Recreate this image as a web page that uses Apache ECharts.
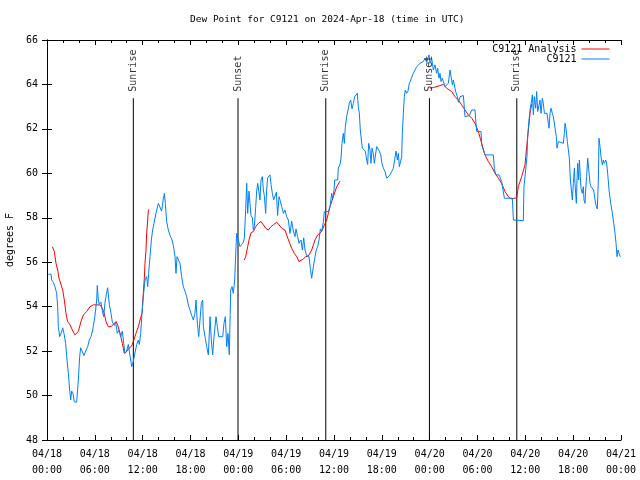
<!DOCTYPE html>
<html><head><meta charset="utf-8">
<script src="https://cdn.jsdelivr.net/npm/echarts@6/dist/echarts.min.js"></script>
<style>html,body{margin:0;padding:0;background:#fff}#c{width:640px;height:480px}</style>
</head><body><div id="c"></div>
<script>
// Hours since 2024-04-18 00:00 UTC
const xTickLabels = ['04/18\n00:00','04/18\n06:00','04/18\n12:00','04/18\n18:00','04/19\n00:00','04/19\n06:00','04/19\n12:00','04/19\n18:00','04/20\n00:00','04/20\n06:00','04/20\n12:00','04/20\n18:00','04/21\n00:00'];

const eventHours = [10.83, 23.96, 34.97, 47.97, 58.93];
const eventNames = ['Sunrise', 'Sunset', 'Sunrise', 'Sunset', 'Sunrise'];
const eventTop = 63.38;

const analysis1 = [[0.67,56.7],[0.92,56.48],[1.13,55.95],[1.34,55.65],[1.51,55.28],[1.76,55.2],[1.97,54.75],[2.17,54.3],[2.38,53.7],[2.59,53.33],[2.89,53.18],[3.18,52.95],[3.51,52.73],[3.72,52.65],[3.93,52.88],[4.26,53.33],[4.56,53.63],[4.98,53.78],[5.39,54.0],[5.81,54.08],[6.65,54.08],[6.94,53.93],[7.19,53.7],[7.40,53.33],[7.69,53.1],[8.03,53.1],[8.32,53.2],[8.66,53.33],[8.86,53.18],[9.16,52.8],[9.45,52.35],[9.70,51.9],[9.99,51.98],[10.29,52.13],[10.62,52.23],[10.83,52.43],[10.91,52.5],[11.16,52.8],[11.46,53.1],[11.67,53.4],[11.92,53.7],[12.08,54.6],[12.21,55.28],[12.29,55.95],[12.42,56.55],[12.50,57.3],[12.63,57.9],[12.71,58.35],[12.84,58.38]];
const analysis2 = [[24.75,56.1],[24.92,56.25],[25.17,56.7],[25.34,57.0],[25.59,57.33],[25.88,57.38],[26.18,57.6],[26.51,57.75],[26.84,57.83],[27.14,57.68],[27.43,57.53],[27.76,57.45],[28.10,57.6],[28.39,57.68],[28.81,57.8],[29.10,57.68],[29.44,57.53],[29.85,57.45],[30.06,57.23],[30.36,56.93],[30.69,56.63],[31.02,56.4],[31.32,56.25],[31.61,56.03],[31.86,56.03],[32.15,56.15],[32.45,56.25],[32.78,56.28],[32.99,56.33],[33.20,56.55],[33.41,56.78],[33.62,57.0],[33.95,57.23],[34.24,57.3],[34.54,57.45],[34.79,57.68],[35.08,57.9],[35.29,58.2],[35.50,58.5],[35.92,58.95],[36.34,59.4],[36.75,59.65]];
const analysis3 = [[48.04,63.83],[48.46,63.86],[49.30,63.95],[49.72,64.0],[50.13,63.83],[50.76,63.68],[51.18,63.45],[51.60,63.3],[52.01,63.08],[52.43,62.85],[52.85,62.63],[53.27,62.48],[53.69,62.25],[54.11,61.88],[54.52,61.35],[54.94,60.83],[55.36,60.53],[55.78,60.3],[56.20,60.0],[56.62,59.78],[57.03,59.55],[57.45,59.18],[57.87,58.95],[58.20,58.85],[58.92,58.9],[59.12,59.4],[59.54,59.85],[59.96,60.38],[60.17,61.2],[60.38,61.95],[60.59,62.7],[60.80,63.12]];

const observed = [[0.17,55.46],[0.50,55.46],[0.59,55.2],[0.79,55.1],[1.00,54.9],[1.21,54.6],[1.34,54.0],[1.42,53.1],[1.59,52.65],[1.76,52.8],[1.97,53.05],[2.13,52.8],[2.34,52.35],[2.51,51.6],[2.68,51.0],[2.84,50.25],[2.97,49.8],[3.09,50.2],[3.26,50.1],[3.43,49.72],[3.72,49.7],[3.93,50.7],[4.10,51.75],[4.22,52.15],[4.43,52.15],[4.64,51.8],[4.85,52.0],[5.10,52.2],[5.31,52.5],[5.52,52.65],[5.73,52.95],[5.94,53.4],[6.10,53.85],[6.23,54.3],[6.31,54.95],[6.44,54.3],[6.56,54.1],[6.77,54.2],[6.94,53.8],[7.11,53.55],[7.28,54.2],[7.44,54.55],[7.61,54.85],[7.69,54.55],[7.82,54.1],[8.03,53.7],[8.20,53.3],[8.45,53.15],[8.61,53.3],[8.82,52.8],[9.03,52.95],[9.24,52.65],[9.45,52.9],[9.62,52.35],[9.78,51.9],[9.99,52.0],[10.20,52.3],[10.41,52.3],[10.62,51.3],[10.80,51.5],[11.04,51.55],[11.25,52.3],[11.46,52.5],[11.58,52.3],[11.75,52.8],[11.92,53.7],[12.08,54.45],[12.29,55.2],[12.50,55.35],[12.63,54.9],[12.75,55.5],[12.92,56.25],[13.09,57.0],[13.25,57.45],[13.42,57.75],[13.67,58.2],[13.97,58.65],[14.17,58.7],[14.38,58.3],[14.59,58.85],[14.72,59.1],[14.84,58.65],[15.01,57.83],[15.22,57.45],[15.43,57.2],[15.64,57.05],[15.85,56.75],[16.06,56.25],[16.18,55.5],[16.31,56.25],[16.47,56.2],[16.68,55.95],[16.89,55.35],[17.10,54.9],[17.31,54.7],[17.52,54.45],[17.73,54.08],[17.94,54.15],[18.15,53.6],[18.36,53.4],[18.56,53.7],[18.69,54.3],[18.86,53.25],[19.03,52.65],[19.19,53.4],[19.36,54.15],[19.53,54.3],[19.61,53.1],[19.82,52.65],[20.03,52.2],[20.24,51.83],[20.45,53.55],[20.61,52.5],[20.78,51.83],[20.95,52.65],[21.20,53.55],[21.37,53.1],[21.53,52.65],[22.04,52.65],[22.20,53.25],[22.37,53.55],[22.54,52.2],[22.70,52.8],[22.87,51.83],[23.04,54.75],[23.21,54.9],[23.37,54.6],[23.54,55.2],[23.71,56.7],[23.79,57.3],[24.00,57.0],[24.21,56.7],[24.42,56.8],[24.63,56.9],[24.75,57.08],[24.92,58.35],[25.05,59.55],[25.17,58.2],[25.34,59.2],[25.46,58.65],[25.59,58.1],[25.76,58.0],[25.88,57.45],[26.01,57.6],[26.18,58.5],[26.30,59.2],[26.43,59.55],[26.59,59.55],[26.72,58.8],[26.84,59.7],[27.01,59.85],[27.14,59.25],[27.26,59.0],[27.43,58.2],[27.55,59.25],[27.68,59.8],[27.97,59.93],[28.10,59.5],[28.27,59.1],[28.43,58.8],[28.60,58.85],[28.77,59.15],[28.93,58.1],[29.10,58.95],[29.23,58.8],[29.44,58.5],[29.65,58.2],[29.85,58.35],[30.06,58.05],[30.27,57.9],[30.48,57.3],[30.69,57.85],[30.90,57.4],[31.11,57.15],[31.23,57.5],[31.44,57.15],[31.61,56.85],[31.86,57.0],[32.03,56.55],[32.20,57.1],[32.36,56.55],[32.57,56.3],[32.87,56.25],[33.03,55.72],[33.20,55.28],[33.41,55.8],[33.62,56.25],[33.78,56.55],[33.95,56.7],[34.12,57.0],[34.29,57.5],[34.45,57.4],[34.66,57.8],[34.79,58.28],[35.29,58.28],[35.50,58.5],[35.71,59.1],[35.83,58.85],[36.00,59.25],[36.09,59.7],[36.46,59.7],[36.54,60.23],[36.75,60.4],[36.88,60.68],[37.00,61.35],[37.17,61.8],[37.30,61.35],[37.42,62.1],[37.59,62.55],[37.76,62.85],[37.92,63.15],[38.09,63.3],[38.26,62.9],[38.43,63.15],[38.59,63.45],[38.76,63.53],[38.93,63.6],[39.05,63.0],[39.18,62.7],[39.30,61.95],[39.43,61.5],[39.56,61.13],[39.81,61.05],[39.93,61.0],[40.10,60.6],[40.22,60.4],[40.35,61.35],[40.52,61.05],[40.64,60.45],[40.77,61.13],[40.93,60.9],[41.06,60.45],[41.19,60.5],[41.35,61.2],[41.56,61.28],[41.69,61.0],[41.86,60.83],[42.02,60.45],[42.19,60.23],[42.40,60.08],[42.61,59.78],[42.82,59.75],[43.03,59.93],[43.23,60.08],[43.44,60.23],[43.65,60.3],[43.78,61.0],[43.95,60.6],[44.07,60.9],[44.20,60.3],[44.36,60.23],[44.49,60.75],[44.57,61.8],[44.70,62.7],[44.82,63.45],[44.95,63.75],[45.12,63.6],[45.28,63.7],[45.45,64.05],[45.62,64.2],[45.95,64.5],[46.16,64.65],[46.37,64.8],[46.58,64.8],[46.79,64.95],[47.20,65.03],[47.42,65.18],[47.63,65.0],[47.92,65.33],[48.04,64.95],[48.25,65.18],[48.46,64.65],[48.67,64.88],[48.88,64.5],[49.00,64.73],[49.17,64.28],[49.30,64.5],[49.42,64.13],[49.59,64.28],[49.72,64.13],[49.92,63.9],[50.34,64.05],[50.55,64.65],[50.68,64.65],[50.85,63.98],[50.97,64.2],[51.18,63.83],[51.26,63.68],[51.47,63.45],[51.60,63.2],[51.81,63.45],[52.23,63.5],[52.35,62.93],[52.43,62.55],[52.98,62.6],[53.27,62.85],[53.69,62.85],[53.77,62.4],[53.90,61.88],[54.44,61.88],[54.52,61.28],[54.73,61.05],[54.94,60.83],[55.99,60.83],[56.11,60.23],[56.28,59.93],[56.70,59.93],[56.95,59.85],[57.03,59.63],[57.24,59.63],[57.37,58.88],[58.37,58.88],[58.50,57.9],[59.75,57.87],[59.83,59.4],[60.04,60.15],[60.21,60.75],[60.29,61.65],[60.46,62.4],[60.63,62.93],[60.80,63.3],[60.88,63.53],[61.01,62.63],[61.13,63.45],[61.30,62.93],[61.42,63.68],[61.55,62.78],[61.72,63.08],[61.84,63.3],[61.97,62.7],[62.13,63.38],[62.26,63.15],[62.39,62.7],[62.55,62.78],[62.72,62.7],[62.89,62.25],[62.97,62.03],[63.10,62.7],[63.22,62.93],[63.39,62.7],[63.51,62.55],[63.72,62.55],[63.89,61.65],[63.97,61.13],[64.14,61.43],[64.77,61.35],[64.89,61.8],[64.98,62.25],[65.10,62.03],[65.27,61.43],[65.40,61.35],[65.52,60.68],[65.65,59.7],[65.81,59.1],[65.90,58.8],[66.02,59.55],[66.15,60.23],[66.23,59.55],[66.31,59.1],[66.40,58.65],[66.48,59.7],[66.57,60.45],[66.69,59.7],[66.78,60.6],[66.90,59.85],[66.98,59.33],[67.15,59.1],[67.28,59.4],[67.36,58.8],[67.49,58.65],[67.57,59.25],[67.69,59.85],[67.82,60.68],[67.99,60.68],[68.11,59.55],[68.24,59.4],[68.41,59.33],[68.57,59.25],[68.74,58.8],[68.87,58.55],[69.03,58.4],[69.16,59.7],[69.24,61.58],[69.37,61.2],[69.49,60.75],[69.66,60.38],[69.79,60.6],[69.91,60.45],[70.08,60.6],[70.20,60.45],[70.33,60.0],[70.50,59.25],[70.71,58.65],[70.92,58.2],[71.09,57.75],[71.25,57.3],[71.38,56.85],[71.50,56.25],[71.63,56.55],[71.75,56.4],[71.92,56.25]];

const FONT = 'DejaVu Sans Mono';
const RED = '#ff0000';
const BLUE = '#0080ff';

const chart = echarts.init(document.getElementById('c'), null, {renderer: 'canvas'});

const axisCommon = {
  axisLine: {show: true, lineStyle: {color: '#000', width: 1}},
  splitLine: {show: false}
};

const series = [];
eventHours.forEach(function (h) {
  series.push({
    type: 'line', silent: true, symbol: 'none', animation: false,
    lineStyle: {color: '#000', width: 1}, z: 1,
    data: [[h, 48], [h, eventTop]]
  });
});
series.push({
  type: 'scatter', silent: true, symbolSize: 1, z: 5,
  itemStyle: {color: 'rgba(0,0,0,0)'},
  data: eventHours.map(function (h, i) { return [h, eventTop, eventNames[i]]; }),
  label: {
    show: true, formatter: function (p) { return p.value[2]; },
    position: 'top', distance: 6, rotate: 90, align: 'left', verticalAlign: 'middle',
    fontFamily: FONT, fontSize: 10, color: '#000'
  }
});
[analysis1, analysis2, analysis3].forEach(function (seg) {
  series.push({
    name: 'C9121 Analysis', type: 'line', symbol: 'none', z: 3,
    lineStyle: {color: RED, width: 1}, itemStyle: {color: RED}, data: seg
  });
});
series.push({
  name: 'C9121', type: 'line', symbol: 'none', z: 4,
  lineStyle: {color: BLUE, width: 1}, itemStyle: {color: BLUE}, data: observed
});

chart.setOption({
  animation: false,
  backgroundColor: '#fff',
  title: {
    text: 'Dew Point for C9121 on 2024-Apr-18 (time in UTC)',
    left: 190, top: 15, padding: 0,
    textStyle: {fontFamily: FONT, fontSize: 9.5, fontWeight: 'normal', color: '#000'}
  },
  legend: {
    data: ['C9121 Analysis', 'C9121'],
    orient: 'vertical', align: 'right', right: 30, top: 44, padding: 0,
    itemWidth: 28, itemHeight: 12, itemGap: 0,
    itemStyle: {opacity: 0},
    lineStyle: {width: 1},
    textStyle: {fontFamily: FONT, fontSize: 10, color: '#000'},
    selectedMode: false
  },
  grid: {left: 47, right: 19, top: 40, bottom: 40, outerBoundsMode: 'none', containLabel: false,
         show: false},
  xAxis: [
    Object.assign({}, axisCommon, {
      type: 'value', min: 0, max: 72, interval: 6, position: 'bottom',
      axisTick: {show: true, inside: true, length: 5, lineStyle: {color: '#000'}},
      minorTick: {show: true, splitNumber: 3, length: 3, lineStyle: {color: '#000'}},
      axisLabel: {
        show: true, margin: 6, lineHeight: 16, fontFamily: FONT, fontSize: 10, color: '#000',
        formatter: function (v) { return xTickLabels[Math.round(v / 6)]; }
      }
    }),
    Object.assign({}, axisCommon, {
      type: 'value', min: 0, max: 72, interval: 6, position: 'top',
      axisTick: {show: true, inside: true, length: 5, lineStyle: {color: '#000'}},
      minorTick: {show: true, splitNumber: 3, length: 3, lineStyle: {color: '#000'}},
      axisLabel: {show: false}
    })
  ],
  yAxis: [
    Object.assign({}, axisCommon, {
      type: 'value', min: 48, max: 66, interval: 2, position: 'left',
      name: 'degrees F', nameLocation: 'middle', nameGap: 32, nameRotate: 90,
      nameTextStyle: {fontFamily: FONT, fontSize: 10, color: '#000'},
      axisTick: {show: true, inside: true, length: 5, lineStyle: {color: '#000'}},
      axisLabel: {show: true, margin: 9, fontFamily: FONT, fontSize: 10, color: '#000'}
    }),
    Object.assign({}, axisCommon, {
      type: 'value', min: 48, max: 66, interval: 2, position: 'right',
      axisTick: {show: true, inside: true, length: 5, lineStyle: {color: '#000'}},
      axisLabel: {show: false}
    })
  ],
  series: series
});
</script>
</body></html>
